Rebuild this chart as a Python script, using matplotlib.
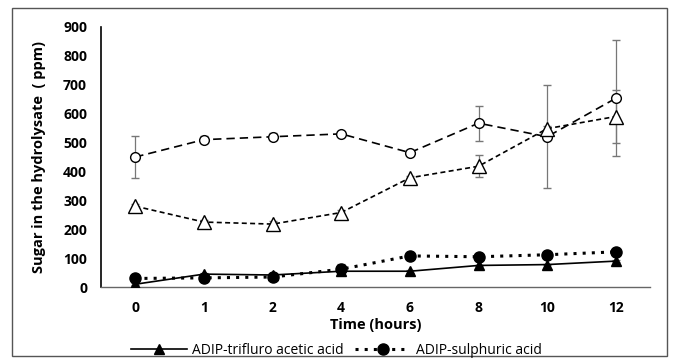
import matplotlib.pyplot as plt
from matplotlib.patches import Rectangle
import numpy as np

plt.rcParams['font.family'] = ['Open Sans', 'DejaVu Sans']

# time points (categorical axis)
hours = ['0', '1', '2', '4', '6', '8', '10', '12']

# open circles, dashed
circ_open = [450, 510, 520, 530, 465, 567, 520, 653]
circ_open_err = [72, 12, 12, 5, 8, 60, 178, 200]

# open triangles, short dashed
tri_open = [280, 225, 218, 258, 378, 418, 548, 590]
tri_open_err = [8, 6, 12, 8, 5, 38, 10, 90]

# filled triangles, solid (legend)
tri_fill = [10, 45, 42, 55, 55, 75, 78, 90]
tri_fill_err = [3, 3, 3, 3, 5, 3, 3, 3]

# filled circles, dotted (legend)
circ_fill = [30, 32, 35, 62, 108, 105, 112, 122]
circ_fill_err = [3, 3, 3, 18, 3, 3, 3, 3]

x = np.arange(len(hours))

fig = plt.figure(figsize=(6.73, 3.63), dpi=100)
ax = fig.add_axes([0.150, 0.209, 0.816, 0.717])

ekw = dict(ecolor='#777777', elinewidth=0.9, capsize=3, capthick=0.9)

ax.errorbar(x, circ_open, yerr=circ_open_err, color='black', ls=(0, (5, 3)), lw=1.2,
            marker='o', ms=7, mfc='white', mec='black', mew=1.0, zorder=3, **ekw)
ax.errorbar(x, tri_open, yerr=tri_open_err, color='black', ls=(0, (3, 2)), lw=1.2,
            marker='^', ms=10, mfc='white', mec='black', mew=1.0, zorder=3, **ekw)
l1 = ax.errorbar(x, tri_fill, yerr=tri_fill_err, color='black', ls='-', lw=1.2,
                 marker='^', ms=7, mfc='black', mec='black', zorder=4,
                 label='ADIP-trifluro acetic acid', **ekw)
l2 = ax.errorbar(x, circ_fill, yerr=circ_fill_err, color='black', ls=(0, (1, 2)), lw=2.2,
                 marker='o', ms=8, mfc='black', mec='black', zorder=4,
                 label='ADIP-sulphuric acid', **ekw)

ax.set_xlim(-0.5, len(hours) - 0.5)
ax.set_ylim(0, 900)
ax.set_xticks(x)
ax.set_xticklabels(hours)
ax.set_yticks(range(0, 901, 100))
ax.tick_params(length=0, labelsize=10, pad=10)
for lab in ax.get_xticklabels() + ax.get_yticklabels():
    lab.set_fontweight('bold')

for s in ['top', 'right']:
    ax.spines[s].set_visible(False)
ax.spines['left'].set_linewidth(1.2)
ax.spines['bottom'].set_color('#666666')
ax.spines['bottom'].set_linewidth(1.0)

ax.set_xlabel('Time (hours)', fontsize=10.5, fontweight='bold', labelpad=2)
ax.set_ylabel('Sugar in the hydrolysate  ( ppm)', fontsize=10.5, fontweight='bold', labelpad=12)

handles = [l1[0], l2[0]]
fig.legend(handles, ['ADIP-trifluro acetic acid', 'ADIP-sulphuric acid'],
           loc='center', bbox_to_anchor=(0.5, 0.035), ncol=2, frameon=False,
           fontsize=10, handlelength=4, columnspacing=0.8, handletextpad=0.4)

fig.patches.append(Rectangle((0.018, 0.02), 0.973, 0.958, transform=fig.transFigure,
                             fill=False, edgecolor='#555555', lw=1.0))

fig.savefig('out.png', dpi=100)
